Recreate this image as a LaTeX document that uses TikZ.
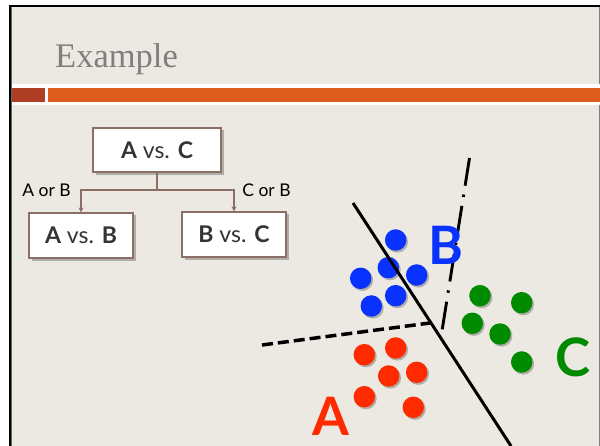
\documentclass[tikz,border=0pt]{standalone}
\usepackage{fontspec}
\setmainfont{Liberation Serif}
\newfontfamily\gill{Lato}
\usetikzlibrary{arrows.meta}

\definecolor{slidebg}{HTML}{ECE9E2}
\definecolor{barred}{HTML}{AE3F26}
\definecolor{barorange}{HTML}{DE5D1E}
\definecolor{titlegray}{HTML}{7F7F7F}
\definecolor{boxbrown}{HTML}{8B6E66}
\definecolor{textdark}{HTML}{333333}
\definecolor{dotblue}{HTML}{0A32FF}
\definecolor{dotgreen}{HTML}{008A00}
\definecolor{dotred}{HTML}{FF2A00}

\tikzset{
  treebox/.style={draw=boxbrown, line width=1.2pt, fill=white,
    minimum width=104pt, minimum height=45pt, inner sep=0pt,
    font=\gill\fontsize{23}{26}\selectfont, text=textdark},
  conn/.style={draw=boxbrown, line width=1.1pt,
    -{Stealth[length=5pt,width=5pt]}},
  branchlabel/.style={font=\gill\fontsize{17.5}{20}\selectfont, text=black, inner sep=0pt},
  dot/.style={circle, inner sep=0pt, minimum size=21.5pt},
  biglabel/.style={font=\gill\bfseries\fontsize{53}{56}\selectfont, inner sep=0pt},
}

\newcommand{\pointdot}[4]{% name, x, y, colour
  \fill[black, opacity=0.25] (#2+1.6,#3+1.8) circle (10.8pt);
  \node[dot, fill=#4] (#1) at (#2,#3) {};
}

\begin{document}
\begin{tikzpicture}[x=1pt,y=-1pt]
  \useasboundingbox (0,0) rectangle (600,446);
  % page and slide frame
  \fill[white] (0,0) rectangle (600,446);
  \fill[slidebg] (10,5) rectangle (600,446);
  \draw[black, line width=2.2pt] (10,446) -- (10,6) -- (600,6);
  \draw[gray!80!black, line width=0.8pt] (11.8,446) -- (11.8,7.5);
  \draw[gray, line width=1.2pt] (599.4,7) -- (599.4,446);

  % title
  \node[anchor=base west, text=titlegray, inner sep=0pt,
        font=\fontsize{34.5}{38}\selectfont] (title) at (55,68) {Example};

  % title bar
  \fill[white] (12,84.5) rectangle (600,105.5);
  \fill[barred] (12,88) rectangle (45,102.5);
  \fill[barorange] (48,88) rectangle (600,102.5);

  % decision tree
  \begin{scope}
    \fill[black, opacity=0.25] (95.5,130.5) rectangle (224,175);
    \fill[black, opacity=0.25] (31.5,215.5) rectangle (136,261);
    \fill[black, opacity=0.25] (184.5,214.5) rectangle (289,260);
  \end{scope}
  \node[treebox, minimum width=128pt, minimum height=44pt] (ac) at (157,150)
    {{\bfseries A} vs. {\bfseries C}};
  \node[treebox] (ab) at (81,235.5) {{\bfseries A} vs. {\bfseries B}};
  \node[treebox] (bc) at (234,234.5) {{\bfseries B} vs. {\bfseries C}};
  \coordinate (fork) at (157,190);
  \draw[conn] (ac.south) -- (fork) -| (ab.north);
  \draw[conn] (fork) -| (bc.north);
  \node[branchlabel] (lab1) at (46.5,190) {A or B};
  \node[branchlabel] (lab2) at (266.5,190) {C or B};

  % class points
  \pointdot{b1}{395.7}{240}{dotblue}
  \pointdot{b2}{388.3}{267.7}{dotblue}
  \pointdot{b3}{360.7}{278.3}{dotblue}
  \pointdot{b4}{416.7}{275}{dotblue}
  \pointdot{b5}{395.7}{295.7}{dotblue}
  \pointdot{b6}{371.3}{306}{dotblue}

  \pointdot{g1}{480}{295.7}{dotgreen}
  \pointdot{g2}{521.7}{302.7}{dotgreen}
  \pointdot{g3}{472.3}{323.3}{dotgreen}
  \pointdot{g4}{500}{334}{dotgreen}
  \pointdot{g5}{521.7}{362}{dotgreen}

  \pointdot{r1}{364.3}{354.7}{dotred}
  \pointdot{r2}{395.7}{348}{dotred}
  \pointdot{r3}{388.7}{376}{dotred}
  \pointdot{r4}{416.7}{372.3}{dotred}
  \pointdot{r5}{364.3}{396.7}{dotred}
  \pointdot{r6}{413.3}{407.3}{dotred}

  % separating lines
  \coordinate (s1) at (353,203);
  \coordinate (s2) at (511,446);
  \coordinate (d1) at (262,345);
  \coordinate (d2) at (430,323);
  \coordinate (e1) at (469.5,158);
  \coordinate (e2) at (441.5,334);
  \draw[black, line width=3pt] (s1) -- (s2);
  \draw[black, line width=3.5pt, dash pattern=on 11pt off 5pt] (d1) -- (d2);
  \draw[black, line width=2.9pt, dash pattern=on 28pt off 9pt on 2.5pt off 9pt] (e1) -- (e2);

  % class labels
  \node[biglabel, text=dotblue] (lblB) at (446,245) {B};
  \node[biglabel, text=dotgreen] (lblC) at (573,357) {C};
  \node[biglabel, text=dotred] (lblA) at (331,416) {A};
\end{tikzpicture}
\end{document}
